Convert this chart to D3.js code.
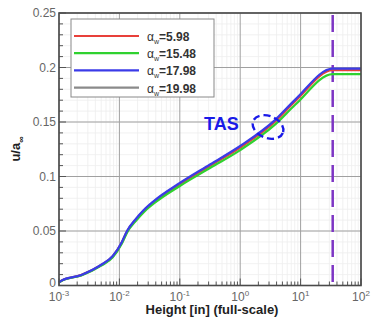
<!DOCTYPE html>
<html>
<head>
<meta charset="utf-8">
<script src="https://cdn.jsdelivr.net/npm/d3@7"></script>
<style>
  body { margin: 0; background: #fff; }
  text { font-family: "Liberation Sans", Arial, sans-serif; }
</style>
</head>
<body>
<svg id="chart" width="372" height="324"></svg>
<script>
// height along the model, inches (full-scale)
let heights = [0.001, 0.0011, 0.00234, 0.005, 0.00776, 0.011, 0.01337, 0.019, 0.0251, 0.0363, 0.1, 0.316, 1, 3.8, 8.3, 34, 100];

let seriesNames = ["5.98", "15.48", "17.98", "19.98"];
let seriesColors = ["#e8403a", "#2fd12f", "#3b3be8", "#8a8a8a"];

let red98 = [0.003, 0.0044, 0.0095, 0.0187, 0.0266, 0.0394, 0.0494, 0.0607, 0.0682, 0.0761, 0.093, 0.1098, 0.1266, 0.1506, 0.1696, 0.1975, 0.1975];
let green548 = [0.0028, 0.0042, 0.0092, 0.0182, 0.0259, 0.0385, 0.0485, 0.0597, 0.0671, 0.0748, 0.0913, 0.1078, 0.1242, 0.1478, 0.1663, 0.194, 0.194];
let blue798 = [0.003, 0.0045, 0.0097, 0.019, 0.027, 0.040, 0.050, 0.0615, 0.069, 0.077, 0.094, 0.111, 0.128, 0.152, 0.171, 0.199, 0.199];
let gray998 = [0.003, 0.0045, 0.0096, 0.0189, 0.0268, 0.0397, 0.0497, 0.0611, 0.0686, 0.0765, 0.0935, 0.1104, 0.1273, 0.1513, 0.1703, 0.1982, 0.1982];
let allSeries = [red98, green548, blue798, gray998];
let drawOrder = [3, 0, 1, 2];

let yTicks = [0, 0.05, 0.1, 0.15, 0.2, 0.25];
let yTickLabels = ["0", "0.05", "0.1", "0.15", "0.2", "0.25"];
let xExponents = [-3, -2, -1, 0, 1, 2];

let tasHeight = 34; // dashed marker

let svg = d3.select("#chart");

let pLeft = 59, pRight = 361, pTop = 13, pBottom = 285.5;

let x = d3.scaleLog().domain([0.001, 100]).range([pLeft, pRight]);
let y = d3.scaleLinear().domain([0, 0.25]).range([pBottom, pTop]);

// minor grid
let minorX = [];
for (let e = -3; e < 2; e++) {
  for (let m = 2; m <= 9; m++) minorX.push(m * Math.pow(10, e));
}
let minorY = d3.range(0, 0.2501, 0.01);

svg.selectAll(".minx")
  .data(minorX)
  .enter()
  .append("line")
  .attr("x1", d => x(d)).attr("x2", d => x(d))
  .attr("y1", pTop).attr("y2", pBottom)
  .style("stroke", "#ededed")
  .style("stroke-width", 0.8);

svg.selectAll(".miny")
  .data(minorY)
  .enter()
  .append("line")
  .attr("x1", pLeft).attr("x2", pRight)
  .attr("y1", d => y(d)).attr("y2", d => y(d))
  .style("stroke", "#ededed")
  .style("stroke-width", 0.8);

// major grid
svg.selectAll(".majx")
  .data(xExponents)
  .enter()
  .append("line")
  .attr("x1", d => x(Math.pow(10, d))).attr("x2", d => x(Math.pow(10, d)))
  .attr("y1", pTop).attr("y2", pBottom)
  .style("stroke", "#a0a0a0")
  .style("stroke-width", 1);

svg.selectAll(".majy")
  .data(yTicks)
  .enter()
  .append("line")
  .attr("x1", pLeft).attr("x2", pRight)
  .attr("y1", d => y(d)).attr("y2", d => y(d))
  .style("stroke", "#a0a0a0")
  .style("stroke-width", 1);

// inside ticks
svg.selectAll(".ytk")
  .data(minorY)
  .enter()
  .append("line")
  .attr("x1", pLeft).attr("x2", (d, i) => pLeft + (i % 5 == 0 ? 7 : 4))
  .attr("y1", d => y(d)).attr("y2", d => y(d))
  .style("stroke", "#555").style("stroke-width", 1);

svg.selectAll(".xtk")
  .data(minorX)
  .enter()
  .append("line")
  .attr("x1", d => x(d)).attr("x2", d => x(d))
  .attr("y1", pBottom).attr("y2", pBottom - 4)
  .style("stroke", "#555").style("stroke-width", 1);

svg.selectAll(".xtkM")
  .data(xExponents)
  .enter()
  .append("line")
  .attr("x1", d => x(Math.pow(10, d))).attr("x2", d => x(Math.pow(10, d)))
  .attr("y1", pBottom).attr("y2", pBottom - 7)
  .style("stroke", "#555").style("stroke-width", 1);

// dashed height marker
svg.append("line")
  .attr("x1", x(tasHeight)).attr("x2", x(tasHeight))
  .attr("y1", pTop + 2).attr("y2", pBottom)
  .style("stroke", "#7d35c4")
  .style("stroke-width", 2.5)
  .style("stroke-dasharray", "17,8");

// curves
let line = d3.line()
  .x((d, i) => x(heights[i]))
  .y(d => y(d))
  .curve(d3.curveMonotoneX);

svg.selectAll(".curve")
  .data(drawOrder)
  .enter()
  .append("path")
  .attr("d", k => line(allSeries[k]))
  .style("fill", "none")
  .style("stroke", k => seriesColors[k])
  .style("stroke-width", 2.2);

// frame
svg.append("rect")
  .attr("x", pLeft).attr("y", pTop)
  .attr("width", pRight - pLeft).attr("height", pBottom - pTop)
  .style("fill", "none")
  .style("stroke", "#4a4a4a")
  .style("stroke-width", 1.6);

// y tick labels
svg.selectAll(".ylab")
  .data(yTicks)
  .enter()
  .append("text")
  .attr("x", pLeft - 3)
  .attr("y", (d, i) => y(d) + (i == 0 ? 1 : 4))
  .text((d, i) => yTickLabels[i])
  .style("text-anchor", "end")
  .style("font-size", 12)
  .style("fill", "#666");

// x tick labels 10^n
let xl = svg.selectAll(".xlab")
  .data(xExponents)
  .enter()
  .append("text")
  .attr("x", d => x(Math.pow(10, d)))
  .attr("y", pBottom + 15)
  .style("text-anchor", "middle")
  .style("font-size", 12)
  .style("fill", "#666");
xl.append("tspan").text("10");
xl.append("tspan").attr("dy", -5).style("font-size", 8).text(d => d);

// axis titles
svg.append("text")
  .attr("x", (pLeft + pRight) / 2 + 2)
  .attr("y", 314)
  .text("Height [in] (full-scale)")
  .style("text-anchor", "middle")
  .style("font-weight", "bold")
  .style("font-size", 13)
  .style("fill", "#222");

let yt = svg.append("text")
  .attr("transform", "translate(20,149) rotate(-90)")
  .style("text-anchor", "middle")
  .style("font-weight", "bold")
  .style("font-size", 13)
  .style("fill", "#222");
yt.append("tspan").text("u/a");
yt.append("tspan").attr("dy", 4).style("font-size", 9).text("\u221e");

// legend
svg.append("rect")
  .attr("x", 71).attr("y", 19)
  .attr("width", 143).attr("height", 78)
  .style("fill", "#fff")
  .style("stroke", "#888")
  .style("stroke-width", 1);

let lg = svg.selectAll(".leg")
  .data(seriesNames)
  .enter()
  .append("g")
  .attr("transform", (d, i) => "translate(0," + (36 + i * 17.2) + ")");

lg.append("line")
  .attr("x1", 74).attr("x2", 139)
  .style("stroke", (d, i) => seriesColors[i])
  .style("stroke-width", 2.2);

let lt = lg.append("text")
  .attr("x", 147)
  .attr("y", 5)
  .style("font-size", 12)
  .style("fill", "#333");
lt.append("tspan").text("\u03b1");
lt.append("tspan").attr("dy", 3).style("font-size", 7).text("w");
lt.append("tspan").attr("dy", -3).style("font-weight", "bold").text(d => "=" + d);

// TAS annotation
svg.append("text")
  .attr("x", 204)
  .attr("y", 130)
  .text("TAS")
  .style("font-weight", "bold")
  .style("font-size", 18)
  .style("fill", "#1a1ae8");

svg.append("ellipse")
  .attr("cx", 268).attr("cy", 127)
  .attr("rx", 16).attr("ry", 11)
  .attr("transform", "rotate(22,268,127)")
  .style("fill", "none")
  .style("stroke", "#1a1ae8")
  .style("stroke-width", 2.4)
  .style("stroke-dasharray", "7,4");
</script>
</body>
</html>
